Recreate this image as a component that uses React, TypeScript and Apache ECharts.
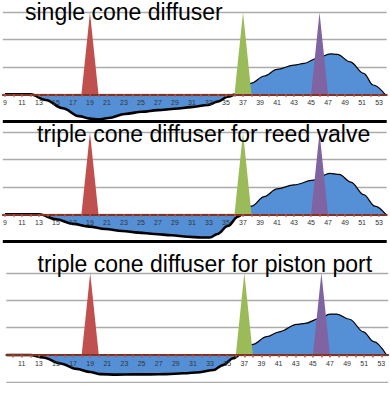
import React, { useEffect, useRef } from "react";
import * as echarts from "echarts";

const titles = [
  "single cone diffuser",
  "triple cone diffuser for reed valve",
  "triple cone diffuser for piston port",
];

// panel 1: single cone diffuser
const p1X = [9, 12, 13.8, 15.8, 17.7, 19, 20, 21.2, 23.1, 25.1, 27, 29, 30.9, 32.9, 34, 35.2, 36, 37.9, 39.5, 41, 43, 44.2, 45.7, 47.3, 48.1, 49.6, 51.2, 52.3, 53.7];
const p1Y = [0, 0, -0.21, -0.51, -0.8, -0.89, -0.92, -0.87, -0.72, -0.64, -0.58, -0.53, -0.47, -0.39, -0.27, -0.09, 0, 0.4, 0.67, 0.91, 1.07, 1.13, 1.32, 1.48, 1.46, 1.19, 0.77, 0.34, 0];

// panel 2: triple cone diffuser for reed valve
const p2X = [9, 13, 15, 17, 18.9, 20.8, 22.8, 24.7, 26.6, 28.6, 30.5, 32.1, 33.1, 34, 35.2, 36.4, 36.8, 38, 39.5, 41, 43, 45.3, 47.2, 48.3, 49.7, 51.2, 52.5, 53.8];
const p2Y = [0, 0, -0.18, -0.35, -0.45, -0.54, -0.61, -0.67, -0.72, -0.77, -0.82, -0.85, -0.85, -0.72, -0.43, -0.09, 0, 0.3, 0.65, 0.93, 1.08, 1.25, 1.5, 1.46, 1.18, 0.72, 0.3, 0];

// panel 3: triple cone diffuser for piston port
const p3X = [9.2, 12, 13.5, 15.5, 17.4, 19, 20.1, 22.1, 24, 26, 27.9, 29.9, 31.8, 33.4, 34.5, 35.7, 36.3, 38, 39.6, 41.1, 43.1, 44.1, 45.8, 47, 47.8, 49.3, 50.9, 52.1, 53.6];
const p3Y = [0, 0, -0.09, -0.31, -0.51, -0.62, -0.7, -0.72, -0.71, -0.71, -0.7, -0.67, -0.63, -0.55, -0.37, -0.12, 0, 0.39, 0.67, 0.85, 1.12, 1.16, 1.34, 1.5, 1.5, 1.31, 0.85, 0.49, 0];

// spikes (same in every panel)
const redX = [18, 19, 20];
const greenX = [36, 37, 38];
const purpleX = [45, 46, 47];
const spikeY = [0, 3, 0];

// lowest gridline value (below the zero axis)
const bottomLine = -1;

// axis ticks / labels
const tickValues12 = Array.from({ length: 45 }, (_, k) => 9 + k); // 9..53
const labelValues12 = Array.from({ length: 23 }, (_, k) => 9 + 2 * k); // 9..53 odd
const tickValues3 = Array.from({ length: 44 }, (_, k) => 10 + k); // 10..53
const labelValues3 = Array.from({ length: 22 }, (_, k) => 11 + 2 * k); // 11..53 odd

const panelX = [p1X, p2X, p3X];
const panelY = [p1Y, p2Y, p3Y];
const xMins = [8.75, 8.75, 9.2];
const xMaxs = [53.9, 53.9, 53.8];

const BLUE = "#5590D6";
const RED = "#C0504D";
const GREEN = "#9BBB59";
const PURPLE = "#8064A2";

export default function App() {
  const ref = useRef<HTMLDivElement>(null);
  useEffect(() => {
    if (!ref.current) return;
    const chart = echarts.init(ref.current, undefined, { renderer: "svg" });

    const gridTops = [12.4, 132.4, 273.1];
    const gridH = 81.9; // value 3 down to 0
    const grids: any[] = [];
    const xAxes: any[] = [];
    const yAxes: any[] = [];
    const series: any[] = [];
    const graphics: any[] = [];

    for (let i = 0; i < 3; i++) {
      const isLast = i === 2;
      grids.push({
        left: isLast ? 6.3 : 0,
        right: isLast ? 1.8 : 3.3,
        top: gridTops[i],
        height: gridH,
        containLabel: false,
      });
      xAxes.push({
        type: "value",
        gridIndex: i,
        position: "bottom",
        min: xMins[i],
        max: xMaxs[i],
        z: 6,
        axisLine: { onZero: false, lineStyle: { color: "#7E3422", width: 2 } },
        axisTick: {
          show: true,
          customValues: isLast ? tickValues3 : tickValues12,
          length: 2.5,
          lineStyle: { color: RED, width: 1.5 },
        },
        axisLabel: {
          customValues: isLast ? labelValues3 : labelValues12,
          margin: 5,
          fontSize: 7,
          color: "#333",
          fontFamily: "Liberation Sans",
        },
        splitLine: { show: false },
      });
      yAxes.push({
        type: "value",
        gridIndex: i,
        min: 0,
        max: 3,
        interval: 1,
        axisLine: { show: false },
        axisTick: { show: false },
        axisLabel: { show: false },
        splitLine: { show: true, lineStyle: { color: "#ABABAB", width: 1.3 } },
      });

      // bottom gridline at -1 (black separator in the first two panels)
      series.push({
        type: "line",
        xAxisIndex: i,
        yAxisIndex: i,
        data: [
          [xMins[i], bottomLine],
          [xMaxs[i], bottomLine],
        ],
        clip: false,
        showSymbol: false,
        silent: true,
        lineStyle: isLast ? { color: "#ABABAB", width: 1.3 } : { color: "#000", width: 3 },
        z: 1,
      });

      const xs = panelX[i];
      const ys = panelY[i];
      const pts = xs.map((x, k) => [x, ys[k]]);
      const firstPos = ys.findIndex((v) => v > 0);
      const neg = pts.slice(0, firstPos);
      const pos = pts.slice(firstPos - 1);

      series.push({
        type: "line",
        xAxisIndex: i,
        yAxisIndex: i,
        data: neg,
        clip: false,
        smooth: 0.35,
        smoothMonotone: "x",
        showSymbol: false,
        lineStyle: { color: "#000", width: 2.6 },
        areaStyle: { color: BLUE, opacity: 1, origin: 0 },
        z: 2,
      });
      series.push({
        type: "line",
        xAxisIndex: i,
        yAxisIndex: i,
        data: pos,
        clip: false,
        smooth: 0.35,
        smoothMonotone: "x",
        showSymbol: false,
        lineStyle: { color: "#000", width: 1.2 },
        areaStyle: { color: BLUE, opacity: 1, origin: 0 },
        z: 2,
      });
      const spikes: [number[], string][] = [
        [redX, RED],
        [greenX, GREEN],
        [purpleX, PURPLE],
      ];
      for (const [sx, col] of spikes) {
        series.push({
          type: "line",
          xAxisIndex: i,
          yAxisIndex: i,
          data: sx.map((x, k) => [x, spikeY[k]]),
          showSymbol: false,
          lineStyle: { width: 0, color: col },
          areaStyle: { color: col, opacity: 1 },
          z: 3,
        });
      }
    }

    const titleTops = [0, 122, 252];
    const titleLefts = [25, 37, 37.5];
    for (let i = 0; i < 3; i++) {
      graphics.push({
        type: "text",
        left: titleLefts[i],
        top: titleTops[i],
        z: 100,
        style: {
          text: titles[i],
          fill: "#000",
          font: '23px "Liberation Sans", Arial, sans-serif',
          lineHeight: 20,
        },
      });
    }

    chart.setOption({
      animation: false,
      grid: grids,
      xAxis: xAxes,
      yAxis: yAxes,
      series,
      graphic: graphics,
    });
    return () => chart.dispose();
  }, []);
  return <div ref={ref} style={{ width: 390, height: 400, position: "absolute", left: 0, top: 0, background: "#fff" }} />;
}
